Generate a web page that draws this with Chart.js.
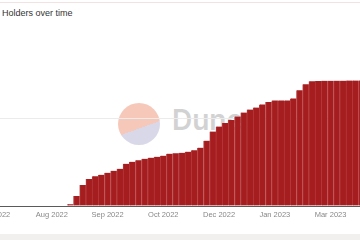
<!DOCTYPE html>
<html lang="en">
<head>
<meta charset="UTF-8">
<title>Holders over time</title>
<script src="https://cdn.jsdelivr.net/npm/chart.js"></script>
<style>
  html, body { margin: 0; padding: 0; background: #fff; overflow: hidden; width: 360px; height: 240px; }
  body { position: relative; font-family: "Liberation Sans", Arial, sans-serif; }
  .topline { position: absolute; left: 0; top: 2px; width: 360px; height: 1px; background: #f3e2e2; }
  .bottomband { position: absolute; left: 0; top: 234px; width: 360px; height: 6px; background: #f2f0ee; }
  .title { position: absolute; left: 2px; top: 8px; font-size: 9px; color: #333; }
  .logo { position: absolute; left: 118px; top: 103px; width: 42px; height: 42px; border-radius: 50%;
          background: linear-gradient(160deg, #f6c8ba 58%, #d8d8e8 58%); }
  .wordmark { position: absolute; left: 172px; top: 106px; font-family: Inter, sans-serif; font-weight: 600;
              font-size: 28px; line-height: 28px; color: #d2d2d2; }
  #wrap { position: absolute; left: -7px; top: 31px; width: 384px; height: 192px; }
</style>
</head>
<body>
<div class="topline"></div>
<div class="title">Holders over time</div>
<div class="logo"></div>
<div class="wordmark">Dune</div>
<div id="wrap"><canvas id="chart"></canvas></div>
<div class="bottomband"></div>

<script>
    // holders per bar, one bar every few days
    const holders = [
        0, 0, 0, 0, 0, 0, 0, 0, 0, 0,
        0, 0, 20, 115, 241, 310, 339, 356, 379, 402,
        425, 483, 506, 523, 540, 552, 563, 575, 598, 603,
        609, 621, 638, 667, 747, 851, 908, 948, 983, 1023,
        1069, 1103, 1126, 1161, 1190, 1207, 1207, 1207, 1230, 1322,
        1391, 1425, 1430, 1431, 1431, 1432, 1432, 1433, 1433, 1434,
        1434, 1435
    ];
    // axis labels, one every 9 bars
    const tickLabels = ['Jul 2022', 'Aug 2022', 'Sep 2022', 'Oct 2022', 'Dec 2022', 'Jan 2023', 'Mar 2023', 'Apr 2023'];
    const barsPerTick = 9;
    const categories = holders.map((_, i) => i);

    const ctx = document.getElementById('chart').getContext('2d');
    new Chart(ctx, {
        type: 'bar',
        data: {
            labels: categories,
            datasets: [{
                label: 'Holders',
                data: holders,
                backgroundColor: '#a51d1f',
                borderColor: '#b4393b',
                borderWidth: { left: 1, right: 0, top: 0, bottom: 0 },
                borderSkipped: false,
                categoryPercentage: 1,
                barPercentage: 1
            }]
        },
        options: {
            responsive: true,
            maintainAspectRatio: false,
            animation: false,
            layout: { padding: 0, autoPadding: false },
            plugins: {
                legend: { display: false },
                tooltip: { enabled: false },
                title: { display: false }
            },
            scales: {
                x: {
                    afterFit: (scale) => { scale.paddingLeft = 0; scale.paddingRight = 0; },
                    grid: { display: false, drawTicks: false },
                    border: { display: true, color: '#5a5a5a', width: 1 },
                    ticks: {
                        autoSkip: false,
                        maxRotation: 0,
                        padding: 4,
                        color: '#888',
                        font: { family: 'Liberation Sans', size: 7.5 },
                        callback: function(value, index) {
                            return index % barsPerTick === 0 ? tickLabels[index / barsPerTick] : '';
                        }
                    }
                },
                y: {
                    min: 0,
                    max: 2000,
                    afterFit: (scale) => { scale.width = 0; },
                    ticks: { display: false, stepSize: 1000 },
                    border: { display: false },
                    grid: {
                        drawTicks: false,
                        color: (c) => c.tick && c.tick.value === 1000 ? '#ebebeb' : 'rgba(0,0,0,0)'
                    }
                }
            }
        }
    });
</script>
</body>
</html>
